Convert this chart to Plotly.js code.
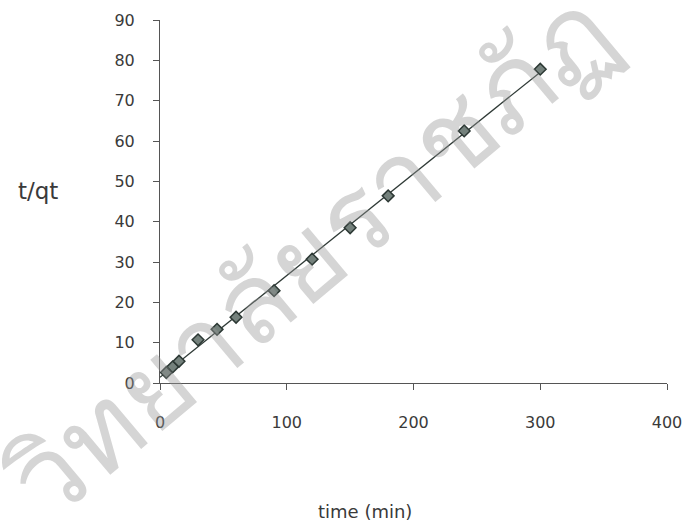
<!DOCTYPE html>
<html>
<head>
<meta charset="utf-8">
<script src="https://cdn.plot.ly/plotly-3.0.1.min.js"></script>
<style>html,body{margin:0;padding:0;background:#fff;}#chart{width:694px;height:526px;}</style>
</head>
<body>
<div id="chart"></div>
<script>
// Data
const time = [5, 10, 15, 30, 45, 60, 90, 120, 150, 180, 240, 300];
const tqt = [2.6, 4.0, 5.4, 10.7, 13.3, 16.3, 22.9, 30.7, 38.5, 46.4, 62.5, 77.8];
const xTicks = [0, 100, 200, 300, 400];
const yTicks = [0, 10, 20, 30, 40, 50, 60, 70, 80, 90];
const xLabel = 'time (min)';
const yLabel = 't/qt';
const watermark = 'วิทยาลัยราชภัฏ';

// Linear trendline (least squares) computed from the data
const n = time.length;
const mx = time.reduce((a, b) => a + b, 0) / n;
const my = tqt.reduce((a, b) => a + b, 0) / n;
let sxy = 0, sxx = 0;
for (let i = 0; i < n; i++) { sxy += (time[i] - mx) * (tqt[i] - my); sxx += (time[i] - mx) ** 2; }
const slope = sxy / sxx;
const intercept = my - slope * mx;
const fitX = [0, Math.max(...time)];
const fitY = fitX.map(x => intercept + slope * x);

const font = 'DejaVu Sans, Verdana, sans-serif';
const textColor = '#3a3a3a';

const traces = [
  {
    x: fitX, y: fitY, mode: 'lines', type: 'scatter',
    line: { color: '#2f3a36', width: 1.3 }, hoverinfo: 'skip', showlegend: false
  },
  {
    x: time, y: tqt, mode: 'markers', type: 'scatter',
    marker: { symbol: 'diamond', size: 9, color: '#74817c', line: { color: '#2c3834', width: 1.5 } },
    showlegend: false
  }
];

const layout = {
  width: 694, height: 526,
  margin: { l: 160, r: 27, t: 20, b: 143 },
  paper_bgcolor: '#ffffff', plot_bgcolor: '#ffffff',
  showlegend: false,
  font: { family: font, size: 16, color: textColor },
  xaxis: {
    range: [0, 400], tickvals: xTicks, ticktext: xTicks.map(String),
    ticks: 'outside', ticklen: 6, tickcolor: '#555555', tickwidth: 1,
    showline: true, linecolor: '#555555', linewidth: 1,
    showgrid: false, zeroline: false, ticklabelstandoff: 19,
    tickfont: { family: font, size: 16, color: textColor }
  },
  yaxis: {
    range: [0, 90], tickvals: yTicks, ticktext: yTicks.map(String),
    ticks: 'outside', ticklen: 6, tickcolor: '#555555', tickwidth: 1,
    showline: true, linecolor: '#555555', linewidth: 1,
    showgrid: false, zeroline: false, ticklabelstandoff: 15,
    tickfont: { family: font, size: 16, color: textColor }
  },
  annotations: [
    {
      text: xLabel, xref: 'paper', yref: 'paper', x: 0.405, y: -0.355,
      xanchor: 'center', yanchor: 'middle', showarrow: false,
      font: { family: font, size: 18, color: textColor }
    },
    {
      text: yLabel, xref: 'paper', yref: 'y', x: -0.24, y: 47.5,
      xanchor: 'center', yanchor: 'middle', showarrow: false,
      font: { family: font, size: 23, color: textColor }
    },
    {
      text: watermark, xref: 'paper', yref: 'paper', x: 0.29, y: 0.36,
      xanchor: 'center', yanchor: 'middle', showarrow: false, textangle: -40,
      font: { family: 'Noto Sans, DejaVu Sans, sans-serif', size: 112, color: 'rgba(150,150,150,0.4)' }
    }
  ]
};

Plotly.newPlot('chart', traces, layout, { staticPlot: true, displayModeBar: false });
</script>
</body>
</html>
